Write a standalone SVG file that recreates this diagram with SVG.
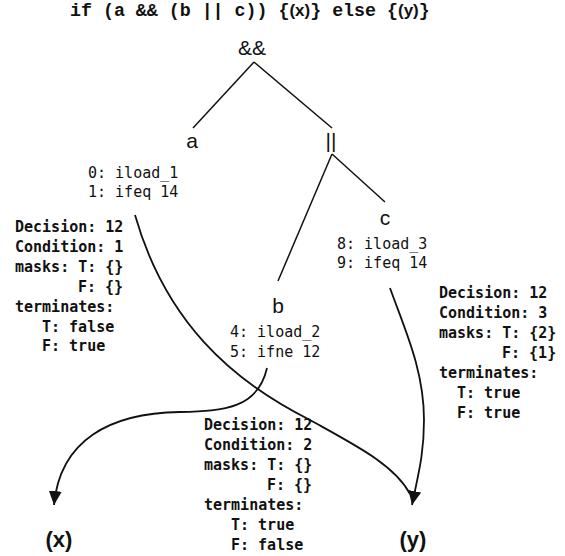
<svg xmlns="http://www.w3.org/2000/svg" width="565" height="556" viewBox="0 0 565 556">
<style>
  .title { font-family: "Liberation Mono", "Courier New", monospace; font-weight: bold; font-size: 18.3px; fill: #111; }
  .ttl-sans { font-family: "Liberation Sans", Arial, sans-serif; font-weight: bold; font-size: 17px; }
  .op { font-family: "Liberation Sans", Arial, sans-serif; font-size: 21px; fill: #111; text-anchor: middle; }
  .code { font-family: "DejaVu Sans Mono", Consolas, monospace; font-size: 15px; fill: #111; }
  .info { font-family: "DejaVu Sans Mono", Consolas, monospace; font-size: 15px; font-weight: bold; fill: #111; }
  .out { font-family: "Liberation Sans", Arial, sans-serif; font-weight: bold; font-size: 22px; fill: #111; text-anchor: middle; }
  .edge { fill: none; stroke: #111; stroke-width: 1.5; }
  .flow { fill: none; stroke: #111; stroke-width: 1.8; }
</style>
<defs>
  <marker id="arrow" markerUnits="userSpaceOnUse" markerWidth="16" markerHeight="14" viewBox="0 0 16 14" refX="14" refY="7" orient="auto">
    <path d="M0,0.5 L14,7 L0,13.5 z" fill="#111"/>
  </marker>
</defs>

<text class="title" x="70" y="16">if (a &amp;&amp; (b || c)) {<tspan class="ttl-sans">(x)</tspan>} else {<tspan class="ttl-sans">(y)</tspan>}</text>

<g id="connectors">
  <line class="edge" x1="254" y1="62" x2="193" y2="128"/>
  <line class="edge" x1="254" y1="62" x2="332" y2="128"/>
  <line class="edge" x1="332" y1="154" x2="278" y2="281"/>
  <line class="edge" x1="332" y1="154" x2="385" y2="202"/>
  <path class="flow" d="M135,215 C165,320 230,380 310,420 C355,445 395,465 410,494"/>
  <path class="flow" d="M390,288 C405,330 424,370 424,420 C424,455 418,475 412,505" marker-end="url(#arrow)"/>
  <path class="flow" d="M267,368 C258,408 225,411 180,412 C110,413 60,440 54,505" marker-end="url(#arrow)"/>
</g>

<g id="node-and">
  <text class="op" x="252" y="55">&amp;&amp;</text>
</g>

<g id="node-or">
  <text class="op" x="331" y="148">||</text>
</g>

<g id="node-a">
  <text class="op" x="192" y="148">a</text>
  <text class="code" x="88" y="178">0: iload_1</text>
  <text class="code" x="88" y="197">1: ifeq 14</text>
  <text class="info">
    <tspan x="15" y="232">Decision: 12</tspan>
    <tspan x="15" y="252">Condition: 1</tspan>
    <tspan x="15" y="272">masks: T: {}</tspan>
    <tspan x="78" y="292">F: {}</tspan>
    <tspan x="15" y="312">terminates:</tspan>
    <tspan x="42" y="332">T: false</tspan>
    <tspan x="42" y="351">F: true</tspan>
  </text>
</g>

<g id="node-b">
  <text class="op" x="278" y="313">b</text>
  <text class="code" x="230" y="337">4: iload_2</text>
  <text class="code" x="230" y="357">5: ifne 12</text>
  <text class="info">
    <tspan x="204" y="430">Decision: 12</tspan>
    <tspan x="204" y="450">Condition: 2</tspan>
    <tspan x="204" y="470">masks: T: {}</tspan>
    <tspan x="267" y="490">F: {}</tspan>
    <tspan x="204" y="510">terminates:</tspan>
    <tspan x="231" y="530">T: true</tspan>
    <tspan x="231" y="550">F: false</tspan>
  </text>
</g>

<g id="node-c">
  <text class="op" x="385" y="225">c</text>
  <text class="code" x="337" y="249">8: iload_3</text>
  <text class="code" x="337" y="268">9: ifeq 14</text>
  <text class="info">
    <tspan x="439" y="298">Decision: 12</tspan>
    <tspan x="439" y="318">Condition: 3</tspan>
    <tspan x="439" y="338">masks: T: {2}</tspan>
    <tspan x="502" y="358">F: {1}</tspan>
    <tspan x="439" y="378">terminates:</tspan>
    <tspan x="457" y="398">T: true</tspan>
    <tspan x="457" y="418">F: true</tspan>
  </text>
</g>

<g id="node-x">
  <text class="out" x="59" y="547">(x)</text>
</g>

<g id="node-y">
  <text class="out" x="413" y="547">(y)</text>
</g>
</svg>
